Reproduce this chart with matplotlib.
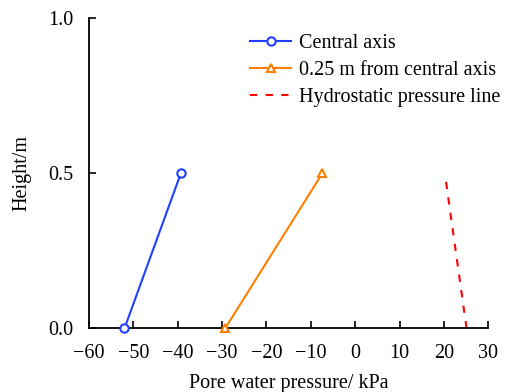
import matplotlib

matplotlib.use("Agg")
import matplotlib.pyplot as plt

plt.rcParams["font.family"] = ["Liberation Serif", "DejaVu Serif"]
plt.rcParams["mathtext.fontset"] = "stix"

# data
height = [0.0, 0.5]
central = [-52.0, -39.3]
offset_025 = [-29.3, -7.4]
hydro_height = [0.0, 0.48]
hydro_p = [25.1, 20.4]

xticks = [-60, -50, -40, -30, -20, -10, 0, 10, 20, 30]
yticks = [0.0, 0.5, 1.0]

fig = plt.figure(figsize=(5.06, 3.92), dpi=100)
ax = fig.add_axes([89 / 506, 1 - 328.3 / 392, (488.3 - 89) / 506, (328.3 - 18.3) / 392])

ax.plot(central, height, "-o", color="#2040ff", lw=1.5, ms=6, mfc="white",
        mew=1.5, label="Central axis", clip_on=False, zorder=3)
ax.plot(offset_025, height, "-^", color="#ff7f00", lw=1.5, ms=6, mfc="white",
        mew=1.5, label="0.25 m from central axis", clip_on=False, zorder=3)
ax.plot(hydro_p, hydro_height, "--", color="#ff0000", lw=1.5,
        label="Hydrostatic pressure line", dashes=(3.5, 4))

ax.set_xlim(-60, 30)
ax.set_ylim(0, 1.0)
ax.set_xticks(xticks)
ax.set_yticks(yticks)
ax.set_xticklabels(["\u2212%d" % -t if t < 0 else str(t) for t in xticks])
ax.set_yticklabels(["%.1f" % t for t in yticks])
ax.tick_params(direction="in", length=5, width=1.2, labelsize=14.5)
ax.tick_params(axis="x", pad=11)
ax.tick_params(axis="y", pad=11)

for s in ("top", "right"):
    ax.spines[s].set_visible(False)
for s in ("left", "bottom"):
    ax.spines[s].set_linewidth(1.3)

ax.set_xlabel("Pore water pressure/ kPa", fontsize=14.5, labelpad=8)
ax.set_ylabel("Height/m", fontsize=14.5, labelpad=12)

ax.legend(loc="upper right", bbox_to_anchor=(1.075, 1.008), frameon=False,
          fontsize=14.5, handlelength=2.0, handletextpad=0.4, labelspacing=0.4)

fig.savefig("out.png", dpi=100)
